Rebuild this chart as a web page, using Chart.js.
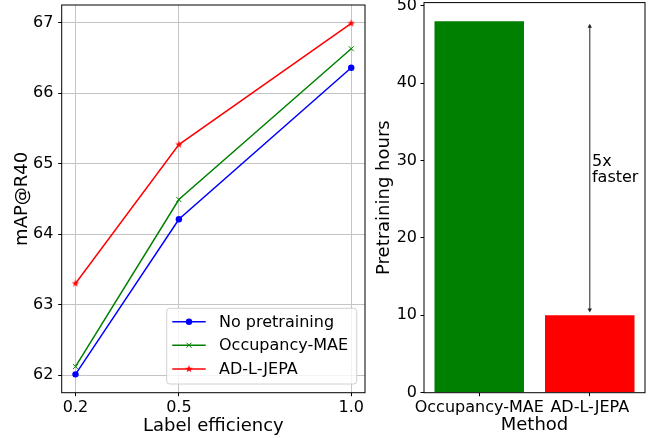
<!DOCTYPE html>
<html><head><meta charset="utf-8">
<script src="https://cdn.jsdelivr.net/npm/chart.js"></script>
<style>
html,body{margin:0;padding:0;background:#fff;}
#wrap{position:relative;width:657px;height:438px;overflow:hidden;background:#fff;}
canvas{position:absolute;top:0;}
#c1{left:0;}
#c2{left:370px;}
</style></head><body>
<div id="wrap">
<canvas id="c1" width="375" height="438"></canvas>
<canvas id="c2" width="287" height="438"></canvas>
</div>
<script>
// ---- data ----
const labelEfficiency = [0.2, 0.5, 1.0];
const noPretraining = [62.01, 64.21, 66.36];
const occupancyMAE = [62.12, 64.49, 66.63];
const adLJepa = [63.30, 65.27, 66.99];
const seriesNames = ['No pretraining', 'Occupancy-MAE', 'AD-L-JEPA'];
const xTickValues = [0.2, 0.5, 1.0];
const yTickValuesLeft = [62, 63, 64, 65, 66, 67];
const methods = ['Occupancy-MAE', 'AD-L-JEPA'];
const pretrainingHours = [48, 10];
const yTickValuesRight = [0, 10, 20, 30, 40, 50];
const speedupArrowRange = [48, 10];
const speedupTextLines = ['5x', 'faster'];
const speedupTextAnchor = [1.02, 29.3];

Chart.defaults.font.family = "'DejaVu Sans', sans-serif";
Chart.defaults.font.size = 16;
Chart.defaults.color = '#000';

const FONT = "16px 'DejaVu Sans', sans-serif";
const TITLE_FONT = {family: "'DejaVu Sans', sans-serif", size: 18};

function starImage(color) {
  const c = document.createElement('canvas');
  c.width = 10; c.height = 10;
  const g = c.getContext('2d');
  g.fillStyle = color;
  g.beginPath();
  for (let i = 0; i < 10; i++) {
    const r = i % 2 === 0 ? 4.0 : 1.6;
    const a = -Math.PI / 2 + i * Math.PI / 5;
    const px = 5 + r * Math.cos(a), py = 5 + r * Math.sin(a);
    if (i === 0) g.moveTo(px, py); else g.lineTo(px, py);
  }
  g.closePath();
  g.fill();
  return c;
}

const framePlugin = {
  id: 'frame',
  afterDraw(chart) {
    const {ctx, chartArea: a} = chart;
    ctx.save();
    ctx.strokeStyle = '#000';
    ctx.lineWidth = 1;
    ctx.strokeRect(a.left, a.top, a.right - a.left, a.bottom - a.top);
    ctx.restore();
  }
};

const legendPlugin = {
  id: 'innerLegend',
  afterDraw(chart) {
    const {ctx, chartArea: a} = chart;
    const w = 190, h = 75.7;
    const bx = a.right - 8.3 - w, by = a.bottom - 8.7 - h;
    ctx.save();
    ctx.fillStyle = 'rgba(255,255,255,0.8)';
    ctx.strokeStyle = '#d0d0d0';
    ctx.lineWidth = 1;
    ctx.beginPath();
    ctx.roundRect(bx, by, w, h, 3);
    ctx.fill();
    ctx.stroke();
    const rows = [13.4, 36.9, 60.7];
    chart.data.datasets.forEach((ds, i) => {
      const y = by + rows[i];
      ctx.strokeStyle = ds.borderColor;
      ctx.lineWidth = ds.borderWidth;
      ctx.beginPath();
      ctx.moveTo(bx + 5.6, y);
      ctx.lineTo(bx + 39, y);
      ctx.stroke();
      ctx.fillStyle = ds.backgroundColor;
      ctx.strokeStyle = ds.borderColor;
      ctx.lineWidth = ds.pointBorderWidth;
      Chart.helpers.drawPoint(ctx, {pointStyle: ds.pointStyle, radius: ds.pointRadius, rotation: 0, borderWidth: ds.pointBorderWidth}, bx + 22.3, y);
      ctx.fillStyle = '#000';
      ctx.font = FONT;
      ctx.textBaseline = 'middle';
      ctx.textAlign = 'left';
      ctx.fillText(ds.label, bx + 52.3, y + 1);
    });
    ctx.restore();
  }
};

const arrowPlugin = {
  id: 'speedArrow',
  afterDatasetsDraw(chart) {
    const {ctx, scales: {x, y}} = chart;
    const px = x.getPixelForValue(1);
    const yTop = y.getPixelForValue(speedupArrowRange[0]) + 2.5;
    const yBot = y.getPixelForValue(speedupArrowRange[1]) - 2.8;
    ctx.save();
    ctx.strokeStyle = '#555';
    ctx.lineWidth = 1.3;
    ctx.beginPath();
    ctx.moveTo(px, yTop + 2);
    ctx.lineTo(px, yBot - 2);
    ctx.stroke();
    ctx.fillStyle = '#222';
    ctx.beginPath();
    ctx.moveTo(px, yTop); ctx.lineTo(px - 2.2, yTop + 4); ctx.lineTo(px + 2.2, yTop + 4); ctx.closePath(); ctx.fill();
    ctx.beginPath();
    ctx.moveTo(px, yBot); ctx.lineTo(px - 2.2, yBot - 4); ctx.lineTo(px + 2.2, yBot - 4); ctx.closePath(); ctx.fill();
    const step = x.getPixelForValue(1) - x.getPixelForValue(0);
    const tx = x.getPixelForValue(1) + (speedupTextAnchor[0] - 1) * step;
    const ty = y.getPixelForValue(speedupTextAnchor[1]);
    ctx.fillStyle = '#000';
    ctx.font = FONT;
    ctx.textAlign = 'left';
    ctx.textBaseline = 'alphabetic';
    speedupTextLines.forEach((t, i) => ctx.fillText(t, tx, ty + i * 16.3));
    ctx.restore();
  }
};

// ---- left: line chart ----
new Chart(document.getElementById('c1'), {
  type: 'line',
  data: {
    datasets: [
      {label: seriesNames[0], data: labelEfficiency.map((v, i) => ({x: v, y: noPretraining[i]})),
       borderColor: '#0000ff', backgroundColor: '#0000ff', borderWidth: 1.5,
       pointStyle: 'circle', pointRadius: 3.2, pointBorderWidth: 0},
      {label: seriesNames[1], data: labelEfficiency.map((v, i) => ({x: v, y: occupancyMAE[i]})),
       borderColor: '#008000', backgroundColor: '#008000', borderWidth: 1.5,
       pointStyle: 'crossRot', pointRadius: 3.5, pointBorderWidth: 1},
      {label: seriesNames[2], data: labelEfficiency.map((v, i) => ({x: v, y: adLJepa[i]})),
       borderColor: '#ff0000', backgroundColor: '#ff0000', borderWidth: 1.5,
       pointStyle: starImage('#ff0000'), pointRadius: 4, pointBorderWidth: 0}
    ]
  },
  options: {
    responsive: false, animation: false, devicePixelRatio: 1,
    layout: {padding: {top: 2.7, right: 10, left: 0, bottom: 0}},
    plugins: {legend: {display: false}, tooltip: {enabled: false}},
    elements: {line: {tension: 0}},
    scales: {
      x: {
        type: 'linear', min: 0.16, max: 1.04,
        afterBuildTicks: s => { s.ticks = xTickValues.map(v => ({value: v})); },
        ticks: {callback: v => Number(v).toFixed(1), padding: 2, maxRotation: 0, autoSkip: false},
        grid: {color: '#c4c4c4', lineWidth: 1, tickLength: 3.5, tickColor: '#000'},
        border: {display: false},
        title: {display: true, text: 'Label efficiency', font: TITLE_FONT, padding: {top: 0, bottom: 1.2}},
        afterFit: s => { s.height = 45.3; s.paddingLeft = 0; s.paddingRight = 0; }
      },
      y: {
        type: 'linear', min: 61.75, max: 67.25,
        afterBuildTicks: s => { s.ticks = yTickValuesLeft.map(v => ({value: v})); },
        ticks: {padding: 4.8, autoSkip: false},
        grid: {color: '#c4c4c4', lineWidth: 1, tickLength: 3.5, tickColor: '#000'},
        border: {display: false},
        title: {display: true, text: 'mAP@R40', font: TITLE_FONT, padding: {top: 11.7, bottom: 0}},
        afterFit: s => { s.width = 61.7; s.paddingTop = 0; s.paddingBottom = 0; }
      }
    }
  },
  plugins: [framePlugin, legendPlugin]
});

// ---- right: bar chart ----
new Chart(document.getElementById('c2'), {
  type: 'bar',
  data: {
    labels: methods,
    datasets: [{data: pretrainingHours, backgroundColor: ['#008000', '#ff0000'],
      categoryPercentage: 1.0, barPercentage: 0.81, borderWidth: 0}]
  },
  options: {
    responsive: false, animation: false, devicePixelRatio: 1,
    layout: {padding: {top: 2.6, right: 12, left: 0, bottom: 0}},
    plugins: {legend: {display: false}, tooltip: {enabled: false}},
    scales: {
      x: {
        type: 'category', offset: true,
        ticks: {padding: 2, maxRotation: 0, autoSkip: false},
        grid: {display: true, drawOnChartArea: false, offset: false, tickLength: 3.5, tickColor: '#000'},
        border: {display: false},
        title: {display: true, text: 'Method', font: TITLE_FONT, padding: {top: 0, bottom: 1.7}},
        afterFit: s => { s.height = 45.3; s.paddingLeft = 0; s.paddingRight = 0; }
      },
      y: {
        type: 'linear', min: 0, max: 50.4,
        afterBuildTicks: s => { s.ticks = yTickValuesRight.map(v => ({value: v})); },
        ticks: {padding: 3.5, autoSkip: false},
        grid: {display: true, drawOnChartArea: false, tickLength: 3.5, tickColor: '#000'},
        border: {display: false},
        title: {display: true, text: 'Pretraining hours', font: TITLE_FONT, padding: {top: 3.2, bottom: 0}},
        afterFit: s => { s.width = 54; s.paddingTop = 0; s.paddingBottom = 0; }
      }
    }
  },
  plugins: [framePlugin, arrowPlugin]
});
</script>
</body></html>
